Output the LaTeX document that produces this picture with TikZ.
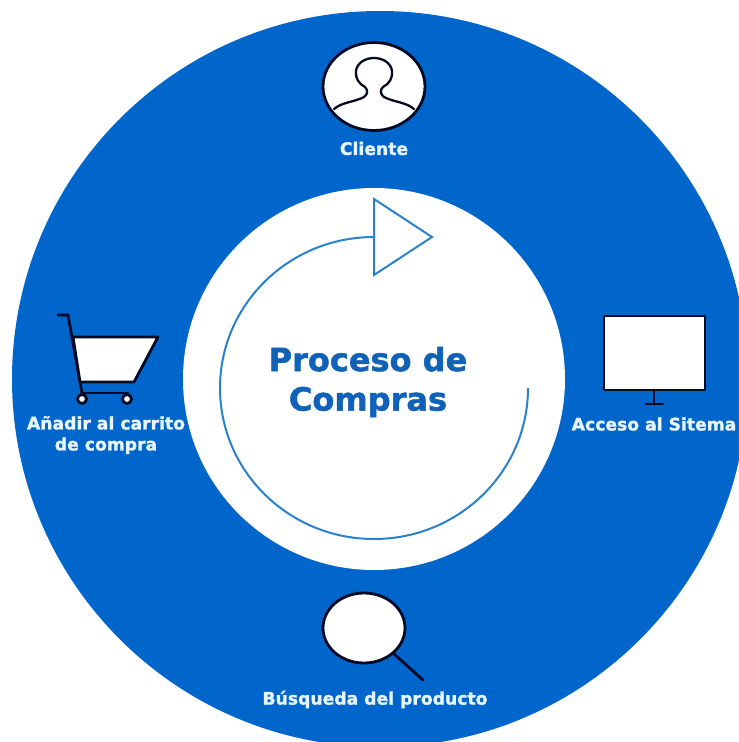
\documentclass[tikz,border=0pt]{standalone}
\usepackage{fontspec}
\setmainfont[BoldFeatures={FakeBold=1.5}]{DejaVu Sans}
\definecolor{ringblue}{HTML}{0066CC}
\definecolor{titleblue}{HTML}{0F62B8}
\definecolor{arcblue}{HTML}{2A82CF}
\definecolor{iconink}{HTML}{050A24}
\definecolor{labelwhite}{HTML}{E6F4FC}
\tikzset{
  icon/.style={draw=iconink,line width=2.8pt,fill=white,line join=round},
  iconline/.style={draw=iconink,line width=2.8pt,line cap=round,line join=round},
  ringlabel/.style={text=labelwhite,font=\fontsize{17.2}{21}\selectfont\bfseries,align=center,inner sep=0pt},
  loopline/.style={draw=arcblue,line width=2pt},
}
\begin{document}
\begin{tikzpicture}[x=1pt,y=-1pt]
\useasboundingbox (0,0) rectangle (739,742);
\fill[white] (0,0) rectangle (739,742);
\begin{scope}
\clip (0,0) rectangle (739,742);
\fill[ringblue] (380,379) circle[radius=368];
\end{scope}
\fill[white] (374,379) circle[radius=191];
% loop arrow
\draw[loopline] (528,388) arc[start angle=0,end angle=270,x radius=154,y radius=151];
\draw[loopline,line join=miter,fill=white] (374,199) -- (432,237) -- (374,275) -- cycle;
\node[text=titleblue,font=\fontsize{32}{39.5}\selectfont\bfseries,align=center,inner sep=0pt] (title) at (368,382) {Proceso de\\Compras};
% client
\draw[icon] (374,86.5) ellipse[x radius=51,y radius=44];
\draw[iconline,line width=2.3pt] (334,109)
  .. controls (342,102) and (355,102) .. (364,97)
  .. controls (368,94) and (368,90) .. (365,87)
  .. controls (359,84) and (355,78) .. (356,71)
  .. controls (357,63) and (365,58) .. (374,58)
  .. controls (383,58) and (391,63) .. (392,71)
  .. controls (393,78) and (389,84) .. (383,87)
  .. controls (380,90) and (380,94) .. (384,97)
  .. controls (393,102) and (406,102) .. (414,109);
\node[ringlabel] (cliente) at (374,148.5) {Cliente};
% cart
\draw[iconline] (58,315) -- (68,315) -- (82,393);
\draw[icon] (73,337) -- (158,337) -- (134,382) -- (80,382) -- cycle;
\draw[iconline] (82,393) -- (128,393);
\draw[icon] (82,399) circle[radius=4.5];
\draw[icon] (127,399) circle[radius=4.5];
\node[ringlabel] (carrito) at (106,435) {Añadir al carrito\\de compra};
% monitor
\draw[icon] (604,316) rectangle (705,390);
\draw[iconline] (654,390) -- (654,404);
\draw[iconline] (646,404) -- (663,404);
\node[ringlabel] (sistema) at (654,424) {Acceso al Sitema};
% search
\draw[iconline] (393,653) -- (423,680);
\draw[icon] (364,628) ellipse[x radius=41,y radius=35];
\node[ringlabel] (busqueda) at (375,699.5) {Búsqueda del producto};
\end{tikzpicture}
\end{document}
